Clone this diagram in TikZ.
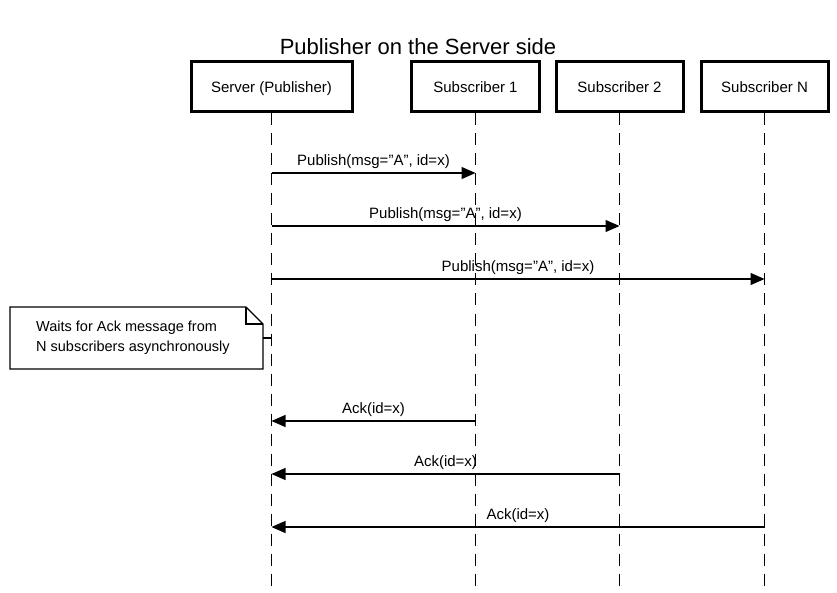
\documentclass[tikz,border=0pt]{standalone}
\usepackage{fontspec}
\setmainfont{Liberation Sans}
\usetikzlibrary{arrows.meta}

\tikzset{
  actor/.style={draw, line width=3pt, minimum height=50pt, inner sep=0pt,
    text height=11pt, text depth=0pt, font=\fontsize{15}{18}\selectfont},
  lifeline/.style={line width=1.3pt, dash pattern=on 12pt off 8pt},
  msg/.style={line width=1.2pt, -{Triangle[length=14pt,width=12pt]}},
  msglabel/.style={font=\fontsize{15}{18}\selectfont, inner sep=0pt, above=4pt},
  notebox/.style={line width=1.2pt}
}

\begin{document}
\begin{tikzpicture}[x=1pt,y=1pt]
  % Fix the page size
  \useasboundingbox (0,0) rectangle (837,-593);

  % Title
  \node (title) at (418,-47) {\fontsize{22}{26}\selectfont Publisher on the Server side};

  % Participants
  \node[actor, minimum width=161pt] (srv) at (271.5,-87) {Server (Publisher)};
  \node[actor, minimum width=128pt] (s1) at (475.5,-87) {Subscriber 1};
  \node[actor, minimum width=127pt] (s2) at (619.5,-87) {Subscriber 2};
  \node[actor, minimum width=127pt] (sn) at (764.5,-87) {Subscriber N};

  % Lifelines
  \coordinate (bot) at (0,-596);
  \foreach \p in {srv,s1,s2,sn}
    \draw[lifeline] (\p.south) -- (\p.south |- bot);

  % Message levels
  \foreach \name/\y in {p1/173, p2/226, p3/279, a1/421, a2/474, a3/527, w/338}
    \coordinate (\name) at (0,-\y);

  % Publish messages
  \draw[msg] (srv |- p1) -- (s1 |- p1) node[msglabel, midway] {Publish(msg="A", id=x)};
  \draw[msg] (srv |- p2) -- (s2 |- p2) node[msglabel, midway] {Publish(msg="A", id=x)};
  \draw[msg] (srv |- p3) -- (sn |- p3) node[msglabel, midway] {Publish(msg="A", id=x)};

  % Note on the server lifeline
  \node[anchor=west, align=left, inner sep=0pt,
    font=\fontsize{14.5}{20}\selectfont] (note) at (36,-338)
    {Waits for Ack message from\\N subscribers asynchronously};
  \coordinate (nw) at (10,-307);
  \coordinate (ne) at (263,-307);
  \coordinate (se) at (263,-369);
  \draw[notebox] (nw) -- ([xshift=-17pt]ne) -- ([yshift=-17pt]ne) -- (se)
    -- (nw |- se) -- cycle;
  \draw[notebox] ([xshift=-17pt]ne) |- ([yshift=-17pt]ne);
  \draw[notebox] (ne |- w) -- (srv |- w);

  % Ack messages
  \draw[msg] (s1 |- a1) -- (srv |- a1) node[msglabel, midway] {Ack(id=x)};
  \draw[msg] (s2 |- a2) -- (srv |- a2) node[msglabel, midway] {Ack(id=x)};
  \draw[msg] (sn |- a3) -- (srv |- a3) node[msglabel, midway] {Ack(id=x)};
\end{tikzpicture}
\end{document}
